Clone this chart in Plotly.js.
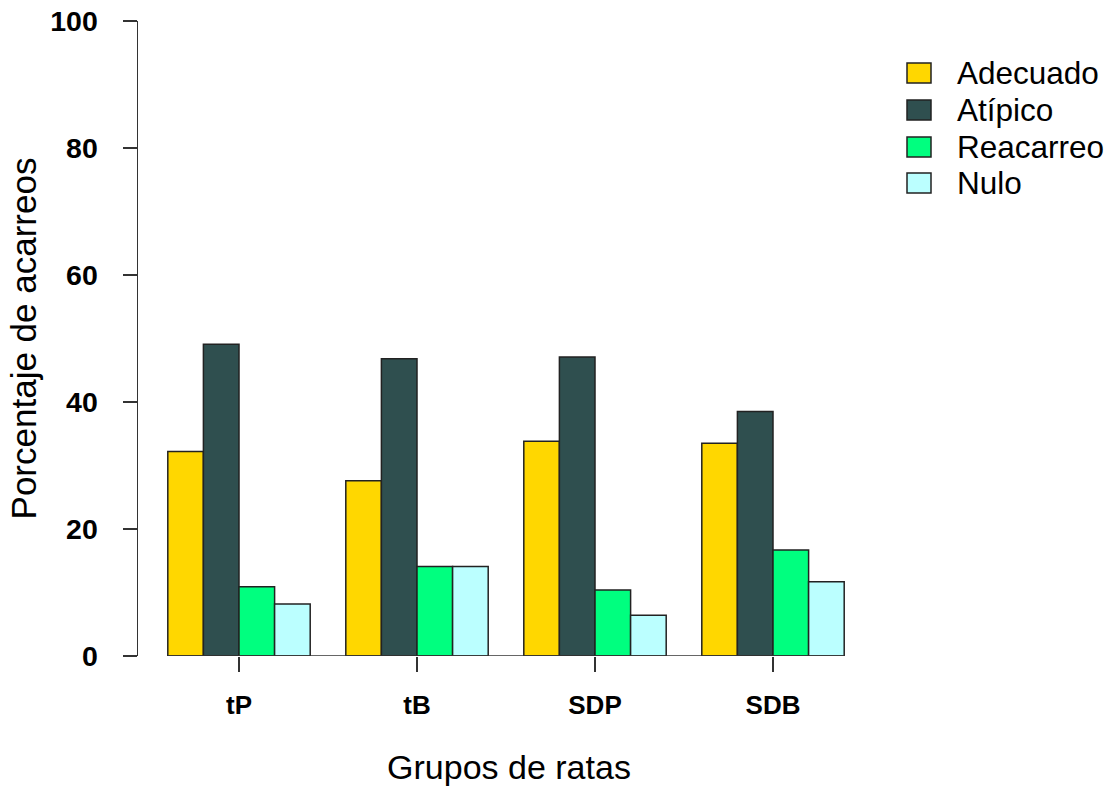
<!DOCTYPE html>
<html>
<head>
<meta charset="utf-8">
<script src="https://cdn.plot.ly/plotly-3.0.1.min.js"></script>
<style>html,body{margin:0;padding:0;background:#fff;}#chart{width:1113px;height:786px;}</style>
</head>
<body>
<div id="chart"></div>
<script>
// ---- data ----
const groups = ["tP", "tB", "SDP", "SDB"];
const seriesNames = ["Adecuado", "Atípico", "Reacarreo", "Nulo"];
const adecuado  = [32.2, 27.6, 33.8, 33.5];
const atipico   = [49.1, 46.8, 47.1, 38.5];
const reacarreo = [10.9, 14.1, 10.4, 16.7];
const nulo      = [8.2, 14.1, 6.4, 11.7];
const yTicks = [0, 20, 40, 60, 80, 100];

const seriesValues = [adecuado, atipico, reacarreo, nulo];
const colors = ["#FFD700", "#2F4F4F", "#00FF7F", "#BBFFFF"];

const W = 1113, H = 786;
const M = {l: 138, r: 233, t: 21, b: 130};
const plotW = W - M.l - M.r, plotH = H - M.t - M.b;
const px2x = p => (p - M.l) / plotW;
const px2y = p => (H - M.b - p) / plotH;

const FONT = "Liberation Sans, Arial, sans-serif";
const lineCol = "#333333";

const traces = seriesNames.map((name, i) => ({
  type: "bar",
  name: name,
  x: groups,
  y: seriesValues[i],
  marker: {color: colors[i], line: {color: "#222222", width: 1.5}},
  showlegend: false,
  hoverinfo: "x+y+name"
}));

// custom legend (boxes + labels) in paper coordinates
const shapes = [];
const annotations = [];
const rowCenters = [73, 110, 147, 183];
seriesNames.forEach((name, i) => {
  const cy = rowCenters[i];
  shapes.push({
    type: "rect", xref: "paper", yref: "paper",
    x0: px2x(907), x1: px2x(931), y0: px2y(cy + 10), y1: px2y(cy - 10),
    fillcolor: colors[i], line: {color: "#222222", width: 1.5}
  });
  annotations.push({
    xref: "paper", yref: "paper", x: px2x(955), y: px2y(cy),
    xanchor: "left", yanchor: "middle", showarrow: false,
    text: name, font: {family: FONT, size: 31.5, color: "#000"}
  });
});

// baseline under bars (from first bar edge to last bar edge)
const bargap = 0.2;
shapes.push({
  type: "line", xref: "x", yref: "y",
  x0: -0.5 + bargap / 2, x1: groups.length - 0.5 - bargap / 2, y0: 0, y1: 0,
  line: {color: lineCol, width: 1.5}
});

const layout = {
  width: W, height: H,
  margin: M,
  paper_bgcolor: "#ffffff",
  plot_bgcolor: "#ffffff",
  barmode: "group",
  bargap: bargap,
  bargroupgap: 0,
  showlegend: false,
  font: {family: FONT, color: "#000"},
  xaxis: {
    type: "category",
    range: [(M.l - 239) / 178, (W - M.r - 239) / 178],
    showline: false, showgrid: false, zeroline: false,
    ticks: "outside", ticklen: 15, tickwidth: 1.5, tickcolor: lineCol,
    ticklabelstandoff: 11,
    tickfont: {family: FONT, size: 26, weight: "bold", color: "#000"},
    title: {text: "Grupos de ratas", font: {family: FONT, size: 34, color: "#000"}, standoff: 36}
  },
  yaxis: {
    range: [0, 100],
    tickvals: yTicks,
    ticktext: yTicks.map(String),
    showline: true, linecolor: lineCol, linewidth: 1.5,
    showgrid: false, zeroline: false,
    ticks: "outside", ticklen: 14, tickwidth: 1.5, tickcolor: lineCol,
    ticklabelstandoff: 19,
    tickfont: {family: FONT, size: 28.5, weight: "bold", color: "#000"},
    title: {text: "Porcentaje de acarreos", font: {family: FONT, size: 35, color: "#000"}, standoff: 3}
  },
  shapes: shapes,
  annotations: annotations
};

Plotly.newPlot("chart", traces, layout, {displayModeBar: false, staticPlot: true});
</script>
</body>
</html>
